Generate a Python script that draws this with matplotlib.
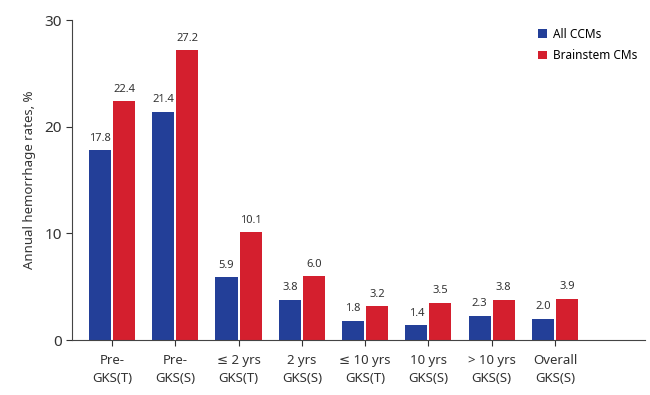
import matplotlib.pyplot as plt
import numpy as np

plt.rcParams['font.family'] = ['Noto Sans', 'DejaVu Sans']

categories = ['Pre-\nGKS(T)', 'Pre-\nGKS(S)', '≤ 2 yrs\nGKS(T)', '2 yrs\nGKS(S)',
              '≤ 10 yrs\nGKS(T)', '10 yrs\nGKS(S)', '> 10 yrs\nGKS(S)', 'Overall\nGKS(S)']
all_ccms = [17.8, 21.4, 5.9, 3.8, 1.8, 1.4, 2.3, 2.0]
brainstem = [22.4, 27.2, 10.1, 6.0, 3.2, 3.5, 3.8, 3.9]

blue = '#233f98'
red = '#d41f2e'
txt = '#333333'

fig = plt.figure(figsize=(6.5, 3.95), dpi=100)
ax = fig.add_axes([0.111, 0.139, 0.881, 0.81])

x = np.arange(len(categories))
w = 0.35
b1 = ax.bar(x - w / 2 - 0.015, all_ccms, w, color=blue, label='All CCMs')
b2 = ax.bar(x + w / 2 + 0.015, brainstem, w, color=red, label='Brainstem CMs')

for bars, vals in [(b1, all_ccms), (b2, brainstem)]:
    for bar, v in zip(bars, vals):
        ax.text(bar.get_x() + bar.get_width() / 2, v + 0.6, f'{v:.1f}',
                ha='center', va='bottom', fontsize=8, color=txt)

ax.set_xlim(-0.63, 8.42)
ax.set_ylim(0, 30)
ax.set_yticks([0, 10, 20, 30])
ax.set_xticks(x)
ax.set_xticklabels(categories, fontsize=9.5, color=txt, linespacing=1.5)
ax.tick_params(axis='y', labelsize=11, colors=txt, length=4, width=0.8)
ax.tick_params(axis='x', length=4, width=0.8, colors=txt, pad=6)
ax.set_ylabel('Annual hemorrhage rates, %', fontsize=9.5, color=txt, labelpad=6)

for s in ['top', 'right']:
    ax.spines[s].set_visible(False)
for s in ['left', 'bottom']:
    ax.spines[s].set_color('#444444')
    ax.spines[s].set_linewidth(0.8)

ax.legend(loc='upper right', bbox_to_anchor=(1.005, 1.01), frameon=False, fontsize=8.5,
          handlelength=0.7, handleheight=0.7, handletextpad=0.5, labelspacing=0.7)

fig.savefig('out.png')
